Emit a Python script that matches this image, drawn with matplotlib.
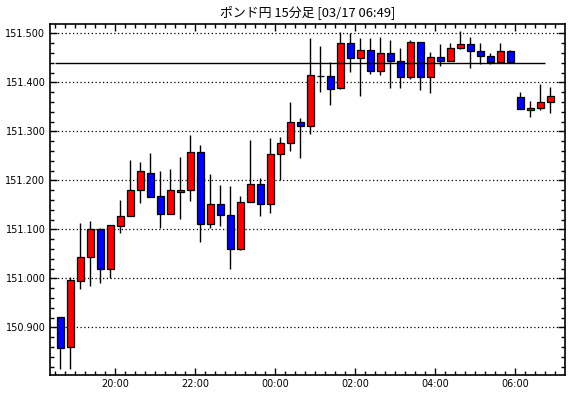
import matplotlib
matplotlib.use("Agg")
import matplotlib.pyplot as plt
import numpy as np
import pandas as pd
from matplotlib.ticker import MultipleLocator, FixedLocator

title = "ポンド円 15分足 [03/17 06:49]"
start_time = "2025-03-16 18:30"

opens = [150.921, 150.861, 150.994, 151.043, 151.100, 151.020, 151.107, 151.127, 151.180, 151.216,
         151.169, 151.131, 151.176, 151.180, 151.257, 151.112, 151.151, 151.129, 151.060, 151.155,
         151.192, 151.151, 151.253, 151.276, 151.320, 151.310, 151.412, 151.412, 151.388, 151.480,
         151.449, 151.465, 151.424, 151.459, 151.443, 151.410, 151.482, 151.410, 151.451, 151.443,
         151.471, 151.478, 151.463, 151.453, 151.441, 151.463, 151.371, 151.343, 151.347, 151.359]
highs = [150.921, 151.003, 151.113, 151.117, 151.102, 151.110, 151.160, 151.241, 151.237, 151.256,
         151.219, 151.224, 151.248, 151.292, 151.272, 151.213, 151.190, 151.188, 151.169, 151.282,
         151.204, 151.286, 151.288, 151.360, 151.327, 151.490, 151.474, 151.441, 151.502, 151.500,
         151.490, 151.490, 151.492, 151.486, 151.471, 151.486, 151.482, 151.461, 151.478, 151.480,
         151.505, 151.492, 151.480, 151.459, 151.480, 151.465, 151.380, 151.361, 151.396, 151.390]
lows = [150.815, 150.815, 150.978, 150.985, 150.991, 151.000, 151.092, 151.127, 151.153, 151.167,
        151.103, 151.131, 151.122, 151.158, 151.075, 151.103, 151.107, 151.020, 151.058, 151.155,
        151.128, 151.134, 151.200, 151.259, 151.245, 151.294, 151.381, 151.353, 151.386, 151.422,
        151.373, 151.418, 151.414, 151.388, 151.388, 151.406, 151.385, 151.378, 151.433, 151.443,
        151.467, 151.429, 151.437, 151.437, 151.441, 151.441, 151.345, 151.329, 151.343, 151.337]
closes = [150.859, 150.996, 151.043, 151.100, 151.020, 151.110, 151.127, 151.180, 151.219, 151.167,
          151.131, 151.180, 151.180, 151.257, 151.112, 151.151, 151.129, 151.061, 151.155, 151.192,
          151.151, 151.253, 151.276, 151.320, 151.310, 151.414, 151.413, 151.386, 151.480, 151.449,
          151.465, 151.424, 151.459, 151.443, 151.410, 151.482, 151.410, 151.451, 151.443, 151.471,
          151.478, 151.463, 151.453, 151.441, 151.463, 151.441, 151.345, 151.347, 151.359, 151.373]
ref_level = 151.440
tick_labels = ["20:00", "22:00", "00:00", "02:00", "04:00", "06:00"]
ytick_values = [150.900, 151.000, 151.100, 151.200, 151.300, 151.400, 151.500]

times = pd.date_range(start_time, periods=len(opens), freq="15min")
hhmm = [t.strftime("%H:%M") for t in times]
x = np.arange(len(opens))

fig = plt.figure(figsize=(5.70, 3.98), dpi=100)
ax = fig.add_axes([49.5 / 570, 1 - 375 / 398, (565 - 49.5) / 570, (375 - 24.3) / 398])

o = np.array(opens); c = np.array(closes); h = np.array(highs); l = np.array(lows)
up = c >= o
colors = np.where(up, "#ff0000", "#0000ff")
ax.vlines(x, l, h, color="black", linewidth=1.0, zorder=2)
body_bottom = np.minimum(o, c)
body_h = np.maximum(np.abs(c - o), 0.0005)
ax.bar(x, body_h, bottom=body_bottom, width=0.65, color=colors, edgecolor="black",
       linewidth=0.9, zorder=3)

ax.hlines(ref_level, -0.5, len(opens) - 1.5, color="black", linewidth=1.0, zorder=4)

ax.set_xlim(-1.08, 50.47)
ax.set_ylim(150.803, 151.5184)

for v in ytick_values:
    ax.axhline(v, color="black", linestyle=(0, (1, 2)), linewidth=0.9, zorder=1)

ax.yaxis.set_major_locator(FixedLocator(ytick_values))
ax.set_yticklabels([f"{v:.3f}" for v in ytick_values])
ax.yaxis.set_minor_locator(MultipleLocator(0.02))

major_pos = [hhmm.index(lbl) - 0.5 for lbl in tick_labels]
ax.xaxis.set_major_locator(FixedLocator(major_pos))
ax.set_xticklabels(tick_labels)
ax.xaxis.set_minor_locator(FixedLocator(np.arange(-0.5, 50.5, 1.0)))

ax.tick_params(axis="both", which="major", direction="in", length=5, width=1,
               labelsize=7, top=True, right=True, pad=3)
ax.tick_params(axis="both", which="minor", direction="in", length=3, width=1,
               top=True, right=True)
for s in ax.spines.values():
    s.set_linewidth(1.2)
    s.set_color("black")

fig.text((49.5 + 565) / 2 / 570, 1 - 12 / 398, title, ha="center", va="center",
         fontsize=9.3, family=["Noto Sans CJK JP", "DejaVu Sans"])

fig.savefig("out.png", dpi=100)
